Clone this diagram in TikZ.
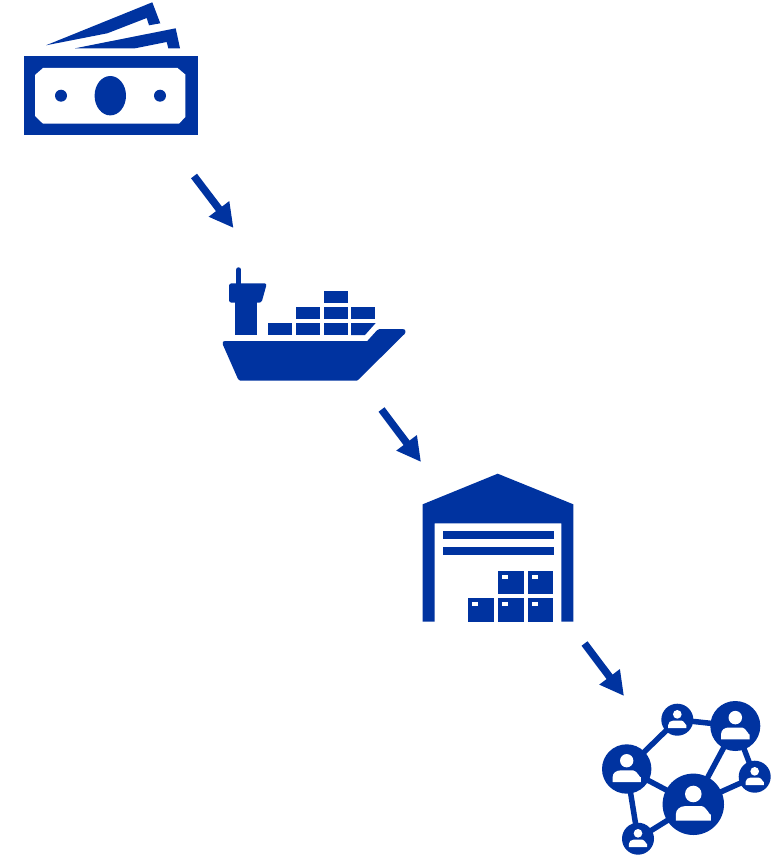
\documentclass[tikz,border=0pt]{standalone}
\usetikzlibrary{arrows.meta,calc}
\definecolor{brandblue}{HTML}{0033A0}
\tikzset{
  icon/.style={fill=brandblue,draw=none},
  hole/.style={fill=white,draw=none},
  flowarrow/.style={draw=brandblue,line width=7.5pt,-{Triangle[length=24pt,width=24pt]}},
  hub/.style={circle,fill=brandblue,draw=none,inner sep=0pt,minimum size=#1},
  link/.style={draw=brandblue,line width=5.5pt},
  crate/.style={icon},
}
% person glyph inside a circle: #1 centre, #2 radius
\newcommand{\personglyph}[2]{%
  \fill[white] ($(#1)+(0,-0.336*#2)$) circle[radius=0.27*#2];
  \fill[white] ($(#1)+(-0.57*#2,0.53*#2)$) -- ++(0,-0.2*#2)
     .. controls +(0,-0.17*#2) and +(-0.15*#2,0) .. ++(0.3*#2,-0.27*#2)
     -- ++(0.54*#2,0)
     .. controls +(0.15*#2,0) and +(0,0.1*#2) .. ++(0.3*#2,0.27*#2)
     -- ++(0,0.2*#2) -- cycle;
}
\newcommand{\cratebox}[2]{%
  \fill[crate] (#1,#2) rectangle ++(25.7,23.5);
  \fill[hole] (#1+4,#2+4) rectangle ++(6,4);
}
\begin{document}
\begin{tikzpicture}[x=1pt,y=-1pt]
\useasboundingbox (0,0) rectangle (773,856);
\fill[white] (0,0) rectangle (773,856);
% --- money
\fill[icon] (46,45.3) -- (152.3,2.3) -- (160.3,23.3) -- (149,25.3) -- (146.7,18) -- (107.3,33.3) -- cycle;
\fill[icon] (75,48.3) -- (175.7,28.3) -- (180,48.3) -- (168.3,48.3) -- (166.7,42) -- (135,48.3) -- cycle;
\fill[icon] (23.5,56) rectangle (197.5,135);
\fill[hole] (43,68) -- (177.5,68) -- (185.3,74.5) -- (185.3,117) -- (179,123.7) -- (43,123.7) -- (35,116) -- (35,75) -- cycle;
\fill[icon] (110.3,95.7) ellipse[x radius=15.7,y radius=19.7];
\fill[icon] (61,95.7) circle[radius=6];
\fill[icon] (160,95.7) circle[radius=6];
% --- ship
\draw[brandblue,line width=5.5pt,line cap=round] (238.7,270) -- (238.7,290);
\fill[icon,rounded corners=2.5pt] (229,283.3) -- (266.9,283.3) -- (261.5,302.7) -- (229,302.7) -- cycle;
\fill[icon] (235,295) rectangle (256.5,334.5);
\foreach \x/\y in {324/291,296/307,324/307,351/307,268/323,296/323,324/323}
  \fill[icon] (\x,\y) rectangle ++(24,12);
\fill[icon] (351,323) -- (375.7,323) -- (365,335) -- (351,335) -- cycle;
\fill[icon] (367.3,341) -- (377,330.3) .. controls (378,329.2) .. (379.5,329) -- (402.5,329)
  .. controls (405.5,329) and (406.5,332) .. (404.5,334) -- (358.5,379.5) .. controls (358,380.2) .. (357,380.5)
  -- (240,380.5) .. controls (238.5,380.5) .. (238,379) -- (222.8,344.5) .. controls (222,342) and (223,341) .. (225,341) -- cycle;
% --- warehouse
\fill[icon] (422.7,504.3) -- (497.7,473.7) -- (573.3,504.3) -- (573.3,621.7) -- (561.3,621.7) -- (561.3,523.3) -- (434.7,523.3) -- (434.7,621.7) -- (422.7,621.7) -- cycle;
\fill[icon] (443,531) rectangle (554,539);
\fill[icon] (443,547) rectangle (554,555);
\cratebox{498}{570.5}
\cratebox{527.7}{570.5}
\cratebox{468.3}{598.3}
\cratebox{498}{598.3}
\cratebox{527.7}{598.3}
% --- network
\node[hub=49.4pt] (pa) at (626.7,769) {};
\node[hub=32pt]   (pb) at (677.3,719.7) {};
\node[hub=50pt]   (pc) at (735.3,726) {};
\node[hub=61.4pt] (pd) at (693.3,804.3) {};
\node[hub=32pt]   (pe) at (754.7,776.7) {};
\node[hub=32pt]   (pf) at (638,838.7) {};
\foreach \u/\v in {pa/pb,pb/pc,pc/pd,pc/pe,pd/pe,pa/pd,pa/pf,pf/pd}
  \draw[link] (\u.center) -- (\v.center);
\personglyph{pa.center}{24.7}
\personglyph{pb.center}{16}
\personglyph{pc.center}{25}
\personglyph{pd.center}{30.7}
\personglyph{pe.center}{16}
\personglyph{pf.center}{16}
% --- arrows
\coordinate (moneyout) at (194,176);
\coordinate (shipin) at (233.5,228);
\coordinate (shipout) at (381.5,409.5);
\coordinate (housein) at (421,462);
\coordinate (houseout) at (584.5,643.5);
\coordinate (netin) at (624,696);
\draw[flowarrow] (moneyout) -- (shipin);
\draw[flowarrow] (shipout) -- (housein);
\draw[flowarrow] (houseout) -- (netin);
\end{tikzpicture}
\end{document}
